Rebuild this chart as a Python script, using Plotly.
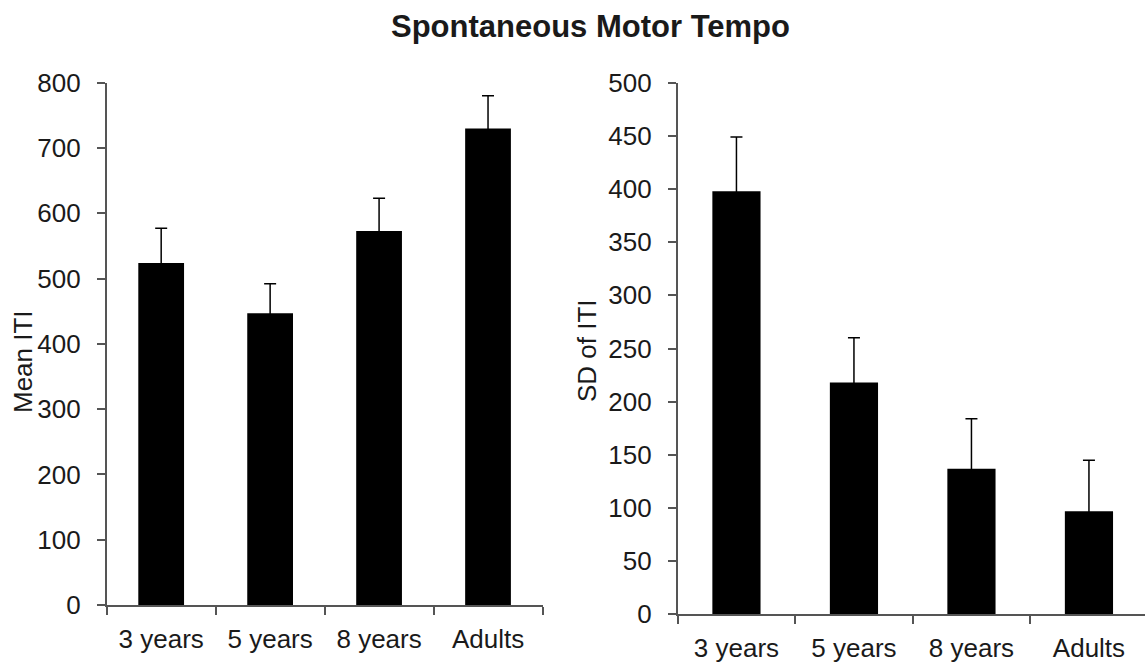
import plotly.graph_objects as go

# Age groups shown on both panels
groups = ["3 years", "5 years", "8 years", "Adults"]

# Left panel: mean inter-tap interval (ms) and upper error
mean_iti = [524, 447, 573, 730]
mean_iti_err = [53, 45, 50, 50]

# Right panel: SD of inter-tap interval (ms) and upper error
sd_iti = [398, 218, 137, 97]
sd_iti_err = [51, 42, 47, 48]

W, H = 1145, 664
FONT = "Liberation Sans, Arial, Helvetica, sans-serif"
TXT = "#1a1a1a"
AXIS = "#555555"


def px_x(v):
    return v / W


def px_y(v):
    return 1 - v / H


def err(vals, tuck):
    # upward whisker; the base cap is tucked just inside the black bar
    return dict(type="data", symmetric=False, array=vals,
                arrayminus=[tuck] * len(vals), color="black",
                thickness=1.5, width=6)


fig = go.Figure()
fig.add_trace(go.Bar(x=groups, y=mean_iti, error_y=err(mean_iti_err, 3),
                     marker=dict(color="black", line=dict(width=0)),
                     width=0.42, xaxis="x", yaxis="y", showlegend=False))
fig.add_trace(go.Bar(x=groups, y=sd_iti, error_y=err(sd_iti_err, 2),
                     marker=dict(color="black", line=dict(width=0)),
                     width=0.41, xaxis="x2", yaxis="y2", showlegend=False))

common_x = dict(type="category", tickson="boundaries", ticks="outside",
                ticklen=8, tickwidth=1.5, tickcolor=AXIS, showline=True,
                linecolor=AXIS, linewidth=1.5, showgrid=False, zeroline=False,
                automargin=False, ticklabelstandoff=10,
                tickfont=dict(family=FONT, size=26, color=TXT), fixedrange=True)
common_y = dict(ticks="outside", ticklen=8, tickwidth=1.5, tickcolor=AXIS,
                showline=True, linecolor=AXIS, linewidth=1.5, showgrid=False,
                zeroline=False, automargin=False, ticklabelstandoff=11,
                tickfont=dict(family=FONT, size=26, color=TXT),
                fixedrange=True)

fig.update_layout(
    width=W, height=H,
    margin=dict(l=0, r=0, t=0, b=0),
    paper_bgcolor="white", plot_bgcolor="white",
    font=dict(family=FONT, color=TXT),
    bargap=0.5,
    xaxis=dict(common_x, domain=[px_x(106.7), px_x(542.5)], range=[-0.5, 3.5],
               anchor="y"),
    yaxis=dict(common_y, domain=[px_y(605), px_y(82.7)], range=[0, 800],
               tickvals=list(range(0, 801, 100)), anchor="x"),
    xaxis2=dict(common_x, domain=[px_x(677.7), 1.0],
                range=[-0.5, -0.5 + (W - 677.7) / 117.5], anchor="y2"),
    yaxis2=dict(common_y, domain=[px_y(614.3), px_y(82.7)], range=[0, 500],
                tickvals=list(range(0, 501, 50)), anchor="x2"),
    annotations=[
        dict(text="<b>Spontaneous Motor Tempo</b>", x=px_x(590), y=px_y(26),
             xref="paper", yref="paper", showarrow=False,
             xanchor="center", yanchor="middle",
             font=dict(family=FONT, size=31, color=TXT)),
        dict(text="Mean ITI", x=px_x(23), y=px_y(362), xref="paper",
             yref="paper", showarrow=False, textangle=-90,
             xanchor="center", yanchor="middle",
             font=dict(family=FONT, size=26, color=TXT)),
        dict(text="SD of ITI", x=px_x(587), y=px_y(351), xref="paper",
             yref="paper", showarrow=False, textangle=-90,
             xanchor="center", yanchor="middle",
             font=dict(family=FONT, size=26, color=TXT)),
    ],
)

fig.write_html("out.html", config=dict(displayModeBar=False))
